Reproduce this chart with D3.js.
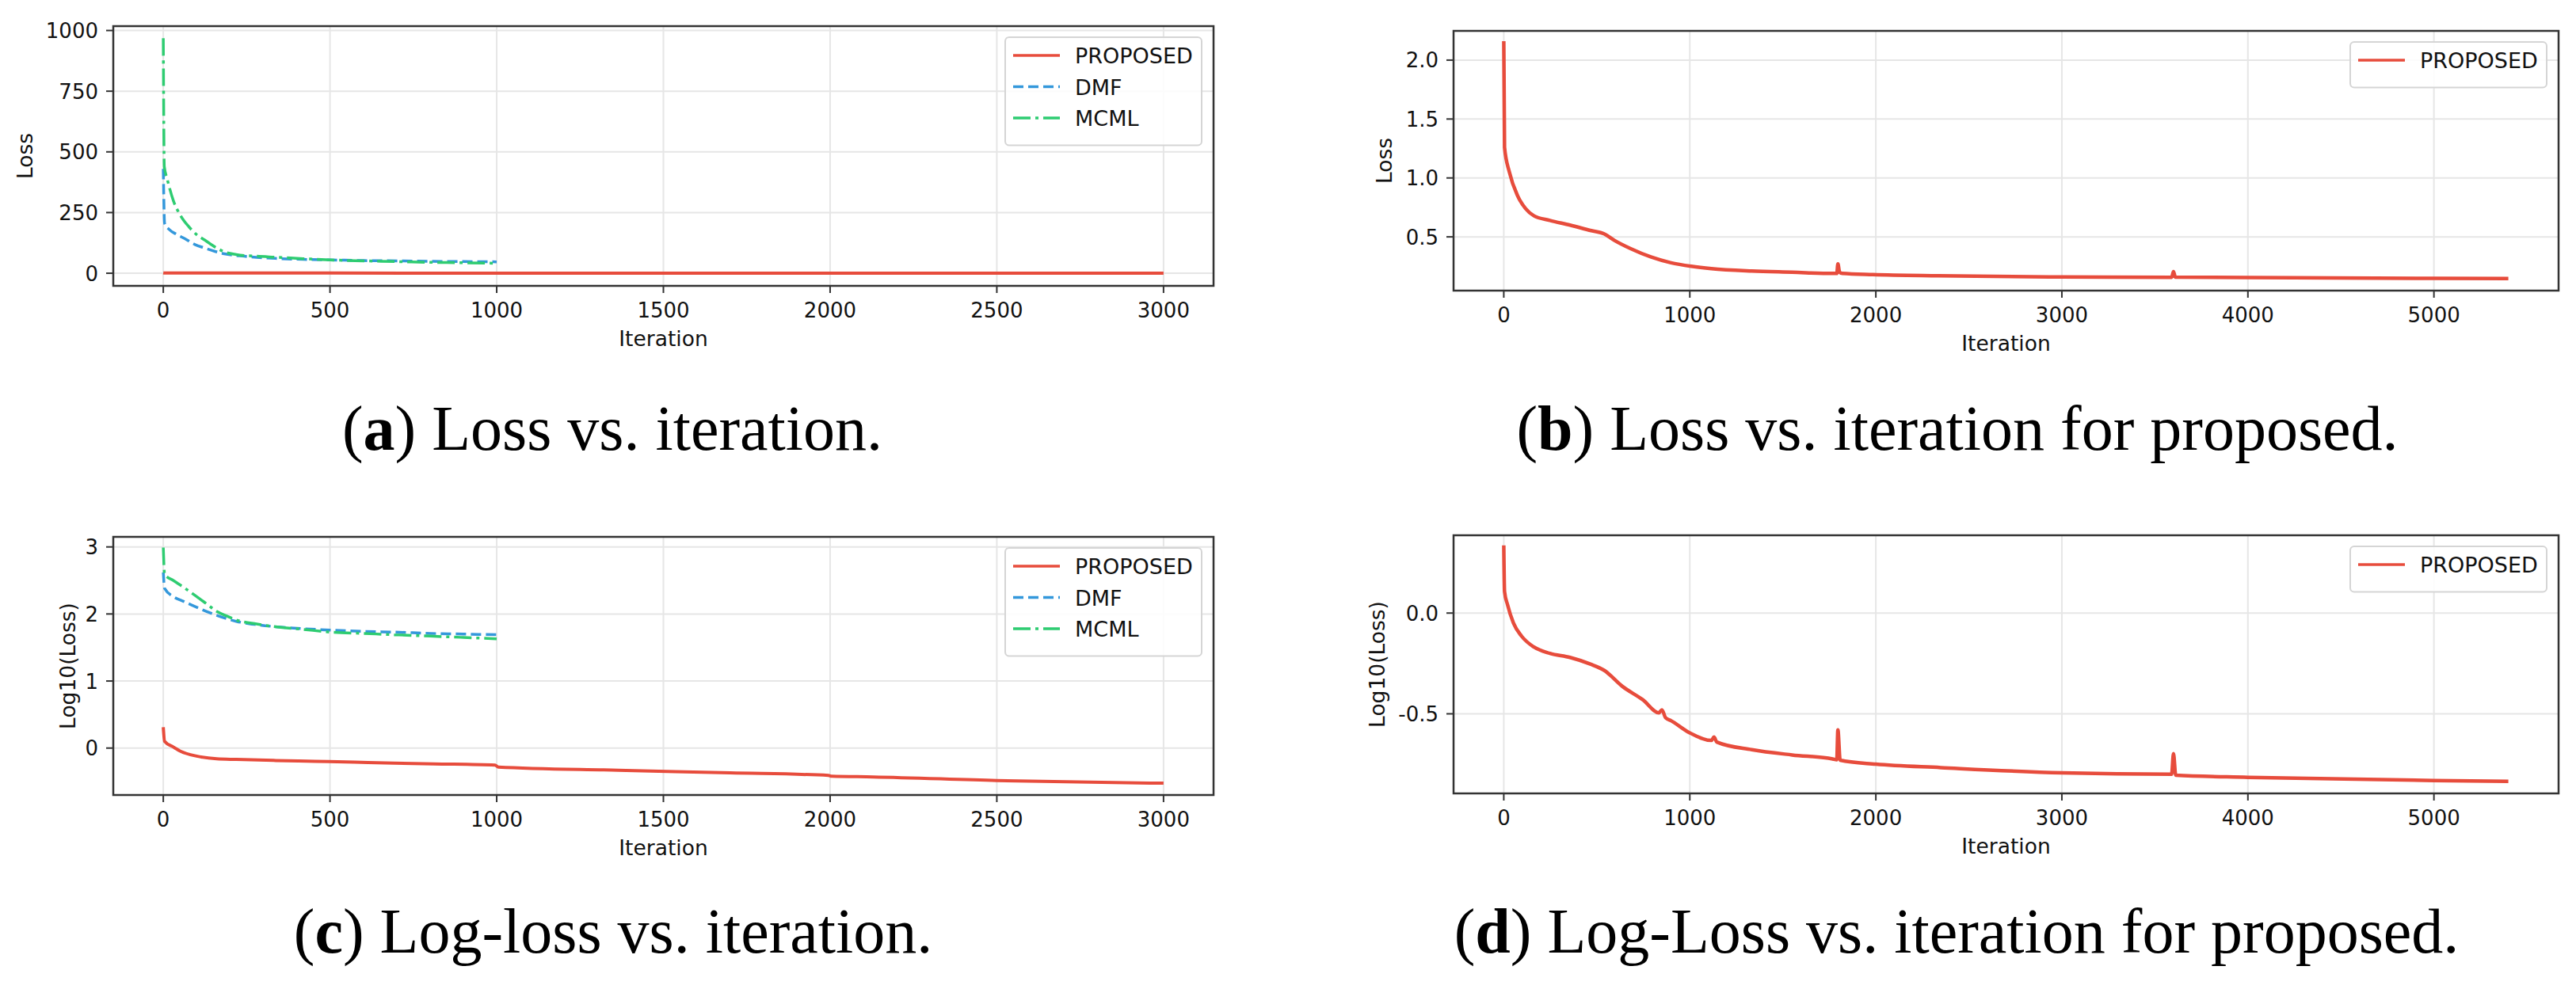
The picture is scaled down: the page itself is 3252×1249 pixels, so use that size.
<!DOCTYPE html>
<html lang="en">
<head>
    <meta charset="UTF-8">
    <title>Loss vs. iteration</title>
    <script src="https://cdn.jsdelivr.net/npm/d3@7"></script>
    <style>
        body {
            margin: 0;
            padding: 0;
            background: #fff;
            overflow: hidden;
        }

        svg {
            display: block;
        }

        .tick-label, .axis-label, .legend-label {
            font-family: "DejaVu Sans", sans-serif;
            fill: #111;
        }

        .caption {
            font-family: "Liberation Serif", "DejaVu Serif", serif;
            fill: #000;
        }
    </style>
</head>
<body>
    <svg id="chart" width="3252" height="1249"></svg>
    <script>
        // ---- data ----
        // (a) loss, linear scale, 0..3000
        var propLossA = [[0, 2.04], [4, 1.26], [100, 0.76], [500, 0.63], [1000, 0.55], [2000, 0.39], [3000, 0.30]];
        var dmfLossA = [[0, 430], [4, 205], [18, 180], [40, 160], [65, 142], [95, 118], [124, 104], [155, 90],
            [183, 80], [243, 70], [337, 61], [420, 57], [500, 55], [600, 52], [700, 51], [800, 49], [900, 48], [1000, 47]];
        var mcmlLossA = [[0, 968], [3, 440], [12, 387], [30, 300], [53, 235], [77, 191], [100, 159], [124, 137],
            [160, 104], [183, 88], [219, 77], [280, 70], [337, 66], [420, 60], [500, 55], [600, 51], [700, 48],
            [800, 45], [900, 43], [1000, 41]];

        // (b) loss for proposed, 0..5400
        var propLossB = [[0, 2.16], [4, 1.26], [30, 1.05], [74, 0.85], [117, 0.74], [161, 0.68], [248, 0.64],
            [356, 0.60], [465, 0.555], [541, 0.525], [595, 0.47], [682, 0.40], [790, 0.33], [899, 0.28],
            [1008, 0.25], [1116, 0.23], [1333, 0.21], [1550, 0.20], [1767, 0.19], [1790, 0.19], [1796, 0.27],
            [1805, 0.20], [1820, 0.19], [1985, 0.18], [2334, 0.17], [3000, 0.16], [3590, 0.157], [3600, 0.205],
            [3610, 0.158], [4000, 0.155], [5000, 0.148], [5400, 0.146]];

        // (c) log10 loss, 0..3000
        var propLogC = [[0, 0.31], [4, 0.10], [30, 0.016], [53, -0.05], [100, -0.12], [160, -0.16], [219, -0.17],
            [337, -0.185], [456, -0.197], [574, -0.21], [692, -0.224], [811, -0.236], [995, -0.255], [1005, -0.283],
            [1364, -0.33], [1700, -0.37], [1995, -0.408], [2005, -0.42], [2129, -0.43], [2500, -0.484], [3000, -0.524]];
        var dmfLogC = [[0, 2.62], [4, 2.38], [30, 2.26], [60, 2.19], [100, 2.10], [160, 1.98], [219, 1.89],
            [280, 1.84], [337, 1.81], [420, 1.78], [500, 1.76], [600, 1.74], [692, 1.73], [800, 1.71], [900, 1.70], [1000, 1.69]];
        var mcmlLogC = [[0, 2.99], [4, 2.59], [30, 2.50], [60, 2.40], [100, 2.26], [130, 2.15], [160, 2.04],
            [190, 1.97], [219, 1.91], [280, 1.85], [337, 1.81], [420, 1.77], [500, 1.73], [600, 1.71], [692, 1.69],
            [800, 1.67], [900, 1.65], [1000, 1.63]];

        // (d) log10 loss for proposed, 0..5400
        var propLogD = [[0, 0.336], [4, 0.107], [20, 0.042], [52, -0.05], [96, -0.115], [161, -0.168], [248, -0.20],
            [356, -0.22], [465, -0.253], [541, -0.285], [638, -0.364], [747, -0.43], [834, -0.495], [850, -0.48],
            [870, -0.52], [899, -0.534], [997, -0.593], [1116, -0.632], [1130, -0.615], [1145, -0.64], [1333, -0.678],
            [1550, -0.704], [1768, -0.724], [1790, -0.728], [1796, -0.58], [1808, -0.73], [2000, -0.75],
            [2350, -0.767], [3000, -0.793], [3590, -0.80], [3600, -0.698], [3612, -0.805], [4000, -0.815],
            [5000, -0.831], [5400, -0.835]];

        var xTicksShort = [0, 500, 1000, 1500, 2000, 2500, 3000];
        var xTicksLong = [0, 1000, 2000, 3000, 4000, 5000];
        var yTicksA = [0, 250, 500, 750, 1000];
        var yTicksB = [0.5, 1.0, 1.5, 2.0];
        var yTicksC = [0, 1, 2, 3];
        var yTicksD = [-0.5, 0.0];

        var seriesNames = ['PROPOSED', 'DMF', 'MCML'];
        var colors = { PROPOSED: '#e74c3c', DMF: '#3498db', MCML: '#2ecc71' };
        var dashes = { PROPOSED: null, DMF: '13,6', MCML: '22,6,4,6' };

        var svg = d3.select('#chart');

        // draw one subplot
        function drawPanel(p) {
            var x = d3.scaleLinear().domain(p.xDomain).range([p.left, p.right]);
            var y = d3.scaleLinear().domain(p.yDomain).range([p.bottom, p.top]);
            var g = svg.append('g');

            // grid
            g.selectAll('.gx').data(p.xTicks).enter().append('line')
                .attr('x1', function(d) { return x(d); }).attr('x2', function(d) { return x(d); })
                .attr('y1', p.top).attr('y2', p.bottom)
                .attr('stroke', '#e6e6e6').attr('stroke-width', 2);
            g.selectAll('.gy').data(p.yTicks).enter().append('line')
                .attr('y1', function(d) { return y(d); }).attr('y2', function(d) { return y(d); })
                .attr('x1', p.left).attr('x2', p.right)
                .attr('stroke', '#e6e6e6').attr('stroke-width', 2);

            var line = d3.line()
                .x(function(d) { return x(d[0]); })
                .y(function(d) { return y(d[1]); })
                .curve(d3.curveMonotoneX);

            var clipId = 'clip' + p.id;
            svg.append('clipPath').attr('id', clipId).append('rect')
                .attr('x', p.left).attr('y', p.top)
                .attr('width', p.right - p.left).attr('height', p.bottom - p.top);

            p.series.forEach(function(s) {
                g.append('path')
                    .datum(s.values)
                    .attr('clip-path', 'url(#' + clipId + ')')
                    .attr('fill', 'none')
                    .attr('stroke', colors[s.name])
                    .attr('stroke-width', s.width || 3.5)
                    .attr('stroke-linejoin', 'round')
                    .attr('stroke-dasharray', dashes[s.name])
                    .attr('d', line);
            });

            // frame
            g.append('rect')
                .attr('x', p.left).attr('y', p.top)
                .attr('width', p.right - p.left).attr('height', p.bottom - p.top)
                .attr('fill', 'none').attr('stroke', '#333').attr('stroke-width', 2.5);

            // x ticks
            g.selectAll('.tx').data(p.xTicks).enter().append('line')
                .attr('x1', function(d) { return x(d); }).attr('x2', function(d) { return x(d); })
                .attr('y1', p.bottom).attr('y2', p.bottom + 9)
                .attr('stroke', '#333').attr('stroke-width', 2);
            g.selectAll('.lx').data(p.xTicks).enter().append('text')
                .attr('class', 'tick-label')
                .attr('x', function(d) { return x(d); })
                .attr('y', p.bottom + 40)
                .attr('text-anchor', 'middle')
                .attr('font-size', 26)
                .text(function(d) { return d; });

            // y ticks
            g.selectAll('.ty').data(p.yTicks).enter().append('line')
                .attr('y1', function(d) { return y(d); }).attr('y2', function(d) { return y(d); })
                .attr('x1', p.left - 9).attr('x2', p.left)
                .attr('stroke', '#333').attr('stroke-width', 2);
            g.selectAll('.ly').data(p.yTicks).enter().append('text')
                .attr('class', 'tick-label')
                .attr('x', p.left - 19)
                .attr('y', function(d) { return y(d) + 9.5; })
                .attr('text-anchor', 'end')
                .attr('font-size', 26)
                .text(function(d) { return p.yFormat(d); });

            // axis labels
            g.append('text')
                .attr('class', 'axis-label')
                .attr('x', (p.left + p.right) / 2)
                .attr('y', p.bottom + 76)
                .attr('text-anchor', 'middle')
                .attr('font-size', 26.5)
                .text('Iteration');
            g.append('text')
                .attr('class', 'axis-label')
                .attr('transform', 'translate(' + (p.yLabelX + 9.5) + ',' + ((p.top + p.bottom) / 2) + ') rotate(-90)')
                .attr('text-anchor', 'middle')
                .attr('font-size', 26.5)
                .text(p.yLabel);

            // legend
            var rowH = 39.5;
            var lg = g.append('g');
            var boxW = 248;
            var boxH = 18 + rowH * p.series.length;
            var bx = p.right - 15 - boxW;
            var by = p.top + 14;
            lg.append('rect')
                .attr('x', bx).attr('y', by)
                .attr('width', boxW).attr('height', boxH)
                .attr('rx', 5)
                .attr('fill', '#fff').attr('fill-opacity', 0.85)
                .attr('stroke', '#d5d5d5').attr('stroke-width', 2);
            p.series.forEach(function(s, i) {
                var cy = by + 23 + i * rowH;
                lg.append('line')
                    .attr('x1', bx + 10).attr('x2', bx + 69)
                    .attr('y1', cy).attr('y2', cy)
                    .attr('stroke', colors[s.name])
                    .attr('stroke-width', 3.5)
                    .attr('stroke-dasharray', dashes[s.name]);
                lg.append('text')
                    .attr('class', 'legend-label')
                    .attr('x', bx + 88)
                    .attr('y', cy + 10)
                    .attr('font-size', 27)
                    .text(s.name);
            });

            // caption
            var cap = svg.append('text')
                .attr('class', 'caption')
                .attr('x', p.capX)
                .attr('y', p.capY)
                .attr('text-anchor', 'middle')
                .attr('font-size', 80);
            cap.append('tspan').text('(');
            cap.append('tspan').attr('font-weight', 'bold').text(p.capLetter);
            cap.append('tspan').text(') ' + p.capText);
        }

        var fmtInt = function(d) { return d3.format('d')(d); };
        var fmtOne = function(d) { return d3.format('.1f')(d).replace('\u2212', '-'); };

        drawPanel({
            id: 'a', left: 143, right: 1532, top: 33, bottom: 361,
            xDomain: [-150, 3150], yDomain: [-52, 1018],
            xTicks: xTicksShort, yTicks: yTicksA, yFormat: fmtInt,
            yLabel: 'Loss', yLabelX: 31,
            series: [
                { name: seriesNames[0], values: propLossA, width: 4 },
                { name: seriesNames[1], values: dmfLossA },
                { name: seriesNames[2], values: mcmlLossA }
            ],
            capX: 773, capY: 568, capLetter: 'a', capText: 'Loss vs. iteration.'
        });

        drawPanel({
            id: 'b', left: 1835, right: 3230, top: 39, bottom: 367,
            xDomain: [-270, 5670], yDomain: [0.044, 2.248],
            xTicks: xTicksLong, yTicks: yTicksB, yFormat: fmtOne,
            yLabel: 'Loss', yLabelX: 1747,
            series: [
                { name: seriesNames[0], values: propLossB, width: 4.5 }
            ],
            capX: 2471, capY: 568, capLetter: 'b', capText: 'Loss vs. iteration for proposed.'
        });

        drawPanel({
            id: 'c', left: 143, right: 1532, top: 678, bottom: 1004,
            xDomain: [-150, 3150], yDomain: [-0.70, 3.15],
            xTicks: xTicksShort, yTicks: yTicksC, yFormat: fmtInt,
            yLabel: 'Log10(Loss)', yLabelX: 85,
            series: [
                { name: seriesNames[0], values: propLogC, width: 4 },
                { name: seriesNames[1], values: dmfLogC },
                { name: seriesNames[2], values: mcmlLogC }
            ],
            capX: 774, capY: 1203, capLetter: 'c', capText: 'Log-loss vs. iteration.'
        });

        drawPanel({
            id: 'd', left: 1835, right: 3230, top: 676, bottom: 1002,
            xDomain: [-270, 5670], yDomain: [-0.895, 0.386],
            xTicks: xTicksLong, yTicks: yTicksD, yFormat: fmtOne,
            yLabel: 'Log10(Loss)', yLabelX: 1738,
            series: [
                { name: seriesNames[0], values: propLogD, width: 4.5 }
            ],
            capX: 2470, capY: 1203, capLetter: 'd', capText: 'Log-Loss vs. iteration for proposed.'
        });
    </script>
</body>
</html>
